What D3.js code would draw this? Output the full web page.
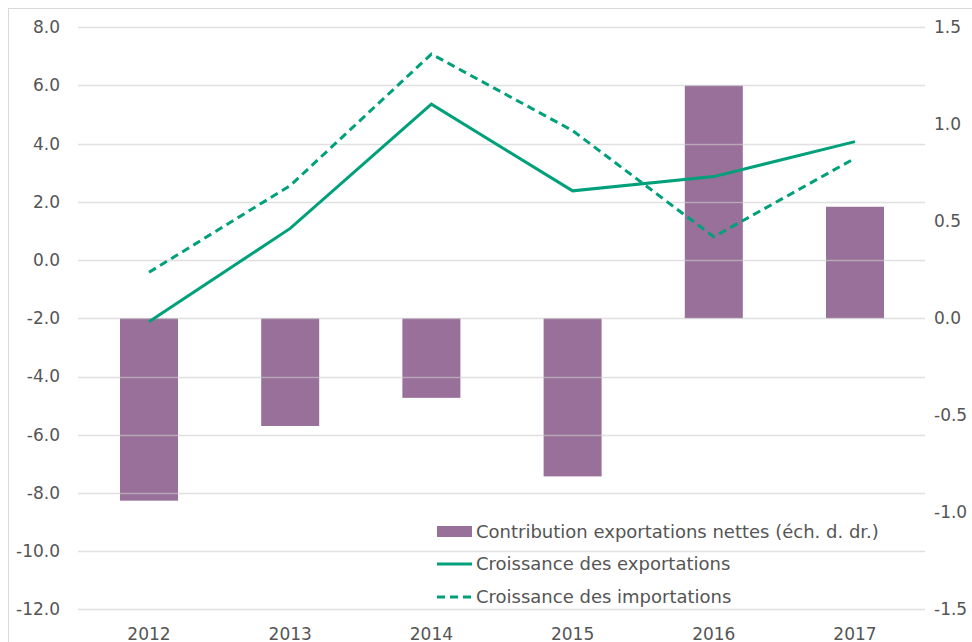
<!DOCTYPE html>
<html>
<head>
<meta charset="utf-8">
<script src="https://cdn.jsdelivr.net/npm/d3@7"></script>
<style>
  body { margin: 0; background: #fff; }
  svg text { font-family: "DejaVu Sans", sans-serif; fill: #555555; }
</style>
</head>
<body>
<div id="chart"></div>
<script>
let width = 972;
let height = 642;

let years = ['2012', '2013', '2014', '2015', '2016', '2017'];
let contribution = [-0.94, -0.555, -0.41, -0.815, 1.2, 0.575];   // right axis
let exportsGrowth = [-2.12, 1.09, 5.36, 2.38, 2.87, 4.07];         // left axis
let importsGrowth = [-0.42, 2.56, 7.08, 4.45, 0.8, 3.5];           // left axis
let leftTicks = [8, 6, 4, 2, 0, -2, -4, -6, -8, -10, -12];
let rightTicks = [1.5, 1.0, 0.5, 0.0, -0.5, -1.0, -1.5];
let legendLabels = ['Contribution exportations nettes (éch. d. dr.)', 'Croissance des exportations', 'Croissance des importations'];

let purple = '#987099';
let green = '#00A07A';

let fmt = d3.formatLocale({ decimal: '.', thousands: ',', grouping: [3], currency: ['', ''], minus: '-' }).format('.1f');

let svg = d3.select('#chart')
  .append('svg')
  .attr('width', width)
  .attr('height', height);

svg.append('rect')
  .attr('x', 8.5).attr('y', 8.5)
  .attr('width', 1000).attr('height', 700)
  .attr('fill', 'none')
  .attr('stroke', '#d9d9d9');

let x = d3.scaleBand()
  .domain(years)
  .range([78.4, 925.6]);

let yLeft = d3.scaleLinear().domain([-12, 8]).range([609.3, 27.3]);
let yRight = d3.scaleLinear().domain([-1.5, 1.5]).range([609.3, 27.3]);

// bars
svg.selectAll('.bar')
  .data(years)
  .enter()
  .append('rect')
  .attr('class', 'bar')
  .attr('x', d => x(d) + x.bandwidth() / 2 - 29)
  .attr('width', 58)
  .attr('y', (d, i) => yRight(Math.max(0, contribution[i])))
  .attr('height', (d, i) => Math.abs(yRight(contribution[i]) - yRight(0)))
  .attr('fill', purple);

// gridlines (drawn over the bars, light)
svg.selectAll('.grid')
  .data(leftTicks)
  .enter()
  .append('line')
  .attr('x1', 78).attr('x2', 925)
  .attr('y1', d => Math.round(yLeft(d)) + 0.5)
  .attr('y2', d => Math.round(yLeft(d)) + 0.5)
  .attr('stroke', '#cccccc')
  .attr('stroke-opacity', 0.6)
  .attr('stroke-width', 1.5);

// left axis labels
svg.selectAll('.ltick')
  .data(leftTicks)
  .enter()
  .append('text')
  .attr('x', 60)
  .attr('y', d => yLeft(d))
  .attr('dy', '0.35em')
  .attr('text-anchor', 'end')
  .style('font-size', '17px')
  .text(d => fmt(d));

// right axis labels
svg.selectAll('.rtick')
  .data(rightTicks)
  .enter()
  .append('text')
  .attr('x', 934)
  .attr('y', d => yRight(d))
  .attr('dy', '0.35em')
  .style('font-size', '17px')
  .text(d => fmt(d));

// x labels
svg.selectAll('.xtick')
  .data(years)
  .enter()
  .append('text')
  .attr('x', d => x(d) + x.bandwidth() / 2)
  .attr('y', 634)
  .attr('dy', '0.35em')
  .attr('text-anchor', 'middle')
  .style('font-size', '17px')
  .text(d => d);

let line = d3.line()
  .x(d => x(d.year) + x.bandwidth() / 2)
  .y(d => yLeft(d.value));

svg.append('path')
  .datum(years.map((y, i) => ({ year: y, value: exportsGrowth[i] })))
  .attr('d', line)
  .attr('fill', 'none')
  .attr('stroke', green)
  .attr('stroke-width', 3);

svg.append('path')
  .datum(years.map((y, i) => ({ year: y, value: importsGrowth[i] })))
  .attr('d', line)
  .attr('fill', 'none')
  .attr('stroke', green)
  .attr('stroke-width', 3)
  .attr('stroke-dasharray', '8,5');

// legend
let legend = svg.append('g').attr('transform', 'translate(437,0)');
let rowsY = [532, 564, 597];

legend.append('rect')
  .attr('x', 0).attr('y', rowsY[0] - 6)
  .attr('width', 35).attr('height', 11)
  .attr('fill', purple);

legend.append('line')
  .attr('x1', 0).attr('x2', 35)
  .attr('y1', rowsY[1]).attr('y2', rowsY[1])
  .attr('stroke', green).attr('stroke-width', 3);

legend.append('line')
  .attr('x1', 0).attr('x2', 35)
  .attr('y1', rowsY[2]).attr('y2', rowsY[2])
  .attr('stroke', green).attr('stroke-width', 3)
  .attr('stroke-dasharray', '8,5');

legend.selectAll('.ltext')
  .data(legendLabels)
  .enter()
  .append('text')
  .attr('x', 39)
  .attr('y', (d, i) => rowsY[i])
  .attr('dy', '0.35em')
  .style('font-size', '18px')
  .text(d => d);
</script>
</body>
</html>
